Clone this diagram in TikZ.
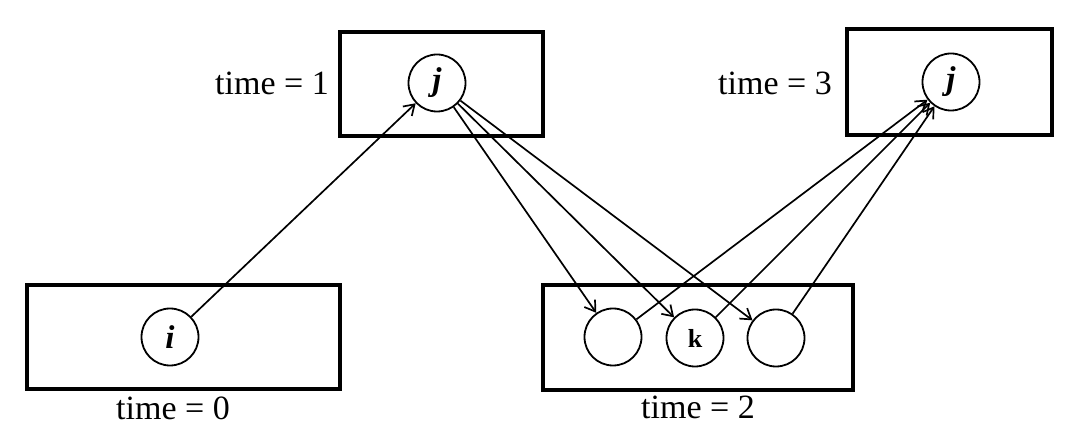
\documentclass[tikz,border=0pt]{standalone}
\usepackage{fontspec}
\setmainfont{Liberation Serif}
\usetikzlibrary{arrows.meta}
\begin{document}
\begin{tikzpicture}[x=1pt,y=-1pt,
  frame/.style={line width=3.2pt},
  state/.style={draw,circle,line width=1.8pt,minimum size=57pt,inner sep=0pt,font=\fontsize{33}{35}\selectfont\bfseries\itshape},
  lbl/.style={font=\fontsize{34}{36}\selectfont,inner sep=0pt},
  link/.style={line width=1.7pt,-{Straight Barb[length=10pt,width=13pt,line width=1.7pt]}}]
\useasboundingbox (0,0) rectangle (1072,438);
% boxes
\draw[frame] (340,32) rectangle (543,136);
\draw[frame] (847,29) rectangle (1052,135);
\draw[frame] (27,285) rectangle (340,389);
\draw[frame] (543,285) rectangle (853,390);
% labels
\node[lbl] (t1) at (272,83) {time = 1};
\node[lbl] (t3) at (775,83) {time = 3};
\node[lbl] (t0) at (173,408) {time = 0};
\node[lbl] (t2) at (698,407) {time = 2};
% states
\node[state] (j1) at (437,83) {j};
\node[state] (j3) at (951,82) {j};
\node[state] (i) at (170,337) {i};
\node[state] (c1) at (613,337) {};
\node[state,font=\fontsize{26}{28}\selectfont\bfseries] (k) at (695,338) {k};
\node[state] (c3) at (776,338) {};
% arrows
\draw[link] (i) -- (j1);
\draw[link] (j1) -- (c1);
\draw[link] (j1) -- (k);
\draw[link] (j1) -- (c3);
\draw[link] (c1) -- (j3);
\draw[link] (k) -- (j3);
\draw[link] (c3) -- (j3);
\end{tikzpicture}
\end{document}
